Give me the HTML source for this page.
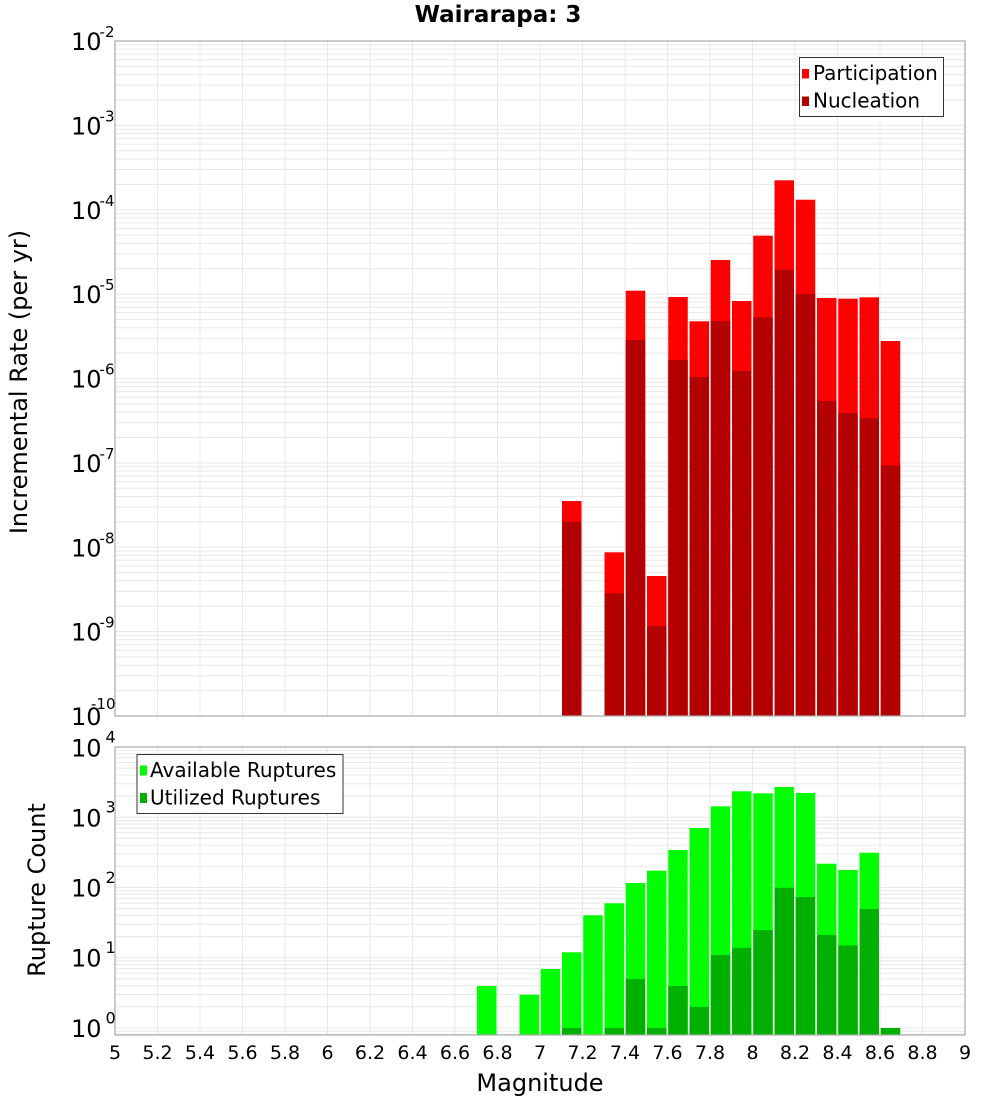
<!DOCTYPE html>
<html><head><meta charset="utf-8"><style>
html,body{margin:0;padding:0;background:#fff;}
svg{display:block;}
text{font-family:"DejaVu Sans","Liberation Sans",sans-serif;fill:#000;}
</style></head><body>
<svg width="1000" height="1100" viewBox="0 0 1000 1100" xmlns="http://www.w3.org/2000/svg">
<rect x="0" y="0" width="1000" height="1100" fill="#fff"/>
<text x="498" y="22" font-size="23" font-weight="bold" text-anchor="middle">Wairarapa: 3</text>

<!-- TOP PLOT grid -->
<g stroke="#e8e8e8" stroke-width="1" fill="none">
<path d="M115 44.9H965M115 49.2H965M115 54.1H965M115 59.7H965M115 66.4H965M115 74.6H965M115 85.1H965M115 100H965
M115 125.4H965M115 129.2H965M115 133.6H965M115 138.4H965M115 144.1H965M115 150.8H965M115 159H965M115 169.5H965M115 184.4H965
M115 209.8H965M115 213.6H965M115 217.9H965M115 222.8H965M115 228.5H965M115 235.1H965M115 243.3H965M115 253.9H965M115 268.7H965
M115 294.1H965M115 298H965M115 302.3H965M115 307.2H965M115 312.8H965M115 319.5H965M115 327.7H965M115 338.2H965M115 353.1H965
M115 378.5H965M115 382.4H965M115 386.7H965M115 391.6H965M115 397.2H965M115 403.9H965M115 412.1H965M115 422.6H965M115 437.5H965
M115 462.9H965M115 466.7H965M115 471.1H965M115 475.9H965M115 481.6H965M115 488.3H965M115 496.5H965M115 507H965M115 521.9H965
M115 547.3H965M115 551.1H965M115 555.4H965M115 560.3H965M115 566H965M115 572.6H965M115 580.8H965M115 591.4H965M115 606.2H965
M115 631.6H965M115 635.5H965M115 639.8H965M115 644.7H965M115 650.3H965M115 657H965M115 665.2H965M115 675.7H965M115 690.6H965"/>
<path d="M157.5 41V716M200 41V716M242.5 41V716M285 41V716M327.5 41V716M370 41V716M412.5 41V716M455 41V716M497.5 41V716M540 41V716M582.5 41V716M625 41V716M667.5 41V716M710 41V716M752.5 41V716M795 41V716M837.5 41V716M880 41V716M922.5 41V716"/>
</g>

<!-- TOP bars: participation -->
<g fill="#ff0000">
<rect x="562" y="501" width="19.5" height="215"/>
<rect x="604.5" y="552.3" width="19.5" height="163.7"/>
<rect x="625.75" y="290.7" width="19.5" height="425.3"/>
<rect x="647" y="576" width="19.5" height="140"/>
<rect x="668.25" y="297" width="19.5" height="419"/>
<rect x="689.5" y="321.3" width="19.5" height="394.7"/>
<rect x="710.75" y="260" width="19.5" height="456"/>
<rect x="732" y="301" width="19.5" height="415"/>
<rect x="753.25" y="235.7" width="19.5" height="480.3"/>
<rect x="774.5" y="180.3" width="19.5" height="535.7"/>
<rect x="795.75" y="199.7" width="19.5" height="516.3"/>
<rect x="817" y="298" width="19.5" height="418"/>
<rect x="838.25" y="298.7" width="19.5" height="417.3"/>
<rect x="859.5" y="297.3" width="19.5" height="418.7"/>
<rect x="880.75" y="341" width="19.5" height="375"/>
</g>
<!-- TOP bars: nucleation -->
<g fill="#b30000">
<rect x="562" y="521.7" width="19.5" height="194.3"/>
<rect x="604.5" y="593.3" width="19.5" height="122.7"/>
<rect x="625.75" y="340" width="19.5" height="376"/>
<rect x="647" y="626" width="19.5" height="90"/>
<rect x="668.25" y="360" width="19.5" height="356"/>
<rect x="689.5" y="377" width="19.5" height="339"/>
<rect x="710.75" y="321" width="19.5" height="395"/>
<rect x="732" y="371" width="19.5" height="345"/>
<rect x="753.25" y="317.3" width="19.5" height="398.7"/>
<rect x="774.5" y="269.7" width="19.5" height="446.3"/>
<rect x="795.75" y="294" width="19.5" height="422"/>
<rect x="817" y="401" width="19.5" height="315"/>
<rect x="838.25" y="413" width="19.5" height="303"/>
<rect x="859.5" y="418.3" width="19.5" height="297.7"/>
<rect x="880.75" y="465.3" width="19.5" height="250.7"/>
</g>
<rect x="115" y="41" width="850" height="675" fill="none" stroke="#ababab" stroke-width="1.2"/>

<!-- top legend -->
<rect x="799.5" y="57.5" width="144" height="59" fill="#fff" stroke="#333" stroke-width="1"/>
<rect x="802" y="69" width="7" height="9.5" fill="#ff0000"/>
<rect x="802" y="96.5" width="7" height="9.5" fill="#b30000"/>
<text x="813" y="80" font-size="20">Participation</text>
<text x="813" y="107.5" font-size="20">Nucleation</text>

<!-- top y tick labels -->
<g font-size="24" text-anchor="end">
<text x="101.5" y="50">10</text>
<text x="101.5" y="134.4">10</text>
<text x="101.5" y="218.8">10</text>
<text x="101.5" y="303.1">10</text>
<text x="101.5" y="387.5">10</text>
<text x="101.5" y="471.9">10</text>
<text x="101.5" y="556.3">10</text>
<text x="101.5" y="640.6">10</text>
<text x="101.5" y="725">10</text>
</g>
<g font-size="15" text-anchor="end">
<text x="114.5" y="37">-2</text>
<text x="114.5" y="121.4">-3</text>
<text x="114.5" y="205.8">-4</text>
<text x="114.5" y="290.1">-5</text>
<text x="114.5" y="374.5">-6</text>
<text x="114.5" y="458.9">-7</text>
<text x="114.5" y="543.3">-8</text>
<text x="114.5" y="627.6">-9</text>
<text x="115.5" y="709">-10</text>
</g>
<text transform="translate(27,382) rotate(-90)" font-size="24" text-anchor="middle">Incremental Rate (per yr)</text>

<!-- BOTTOM PLOT grid -->
<g stroke="#e8e8e8" stroke-width="1" fill="none">
<path d="M115 750.2H965M115 753.8H965M115 757.9H965M115 762.6H965M115 768.1H965M115 775H965M115 783.7H965M115 796.1H965
M115 817.2H965M115 820.5H965M115 824.1H965M115 828.1H965M115 832.8H965M115 838.4H965M115 845.2H965M115 854H965M115 866.3H965
M115 887.5H965M115 890.7H965M115 894.3H965M115 898.4H965M115 903.1H965M115 908.6H965M115 915.4H965M115 924.2H965M115 936.6H965
M115 957.7H965M115 960.9H965M115 964.5H965M115 968.6H965M115 973.3H965M115 978.9H965M115 985.7H965M115 994.5H965M115 1006.8H965
M115 1028H965M115 1031.2H965M115 1034.3H965"/>
<path d="M157.5 747V1035M200 747V1035M242.5 747V1035M285 747V1035M327.5 747V1035M370 747V1035M412.5 747V1035M455 747V1035M497.5 747V1035M540 747V1035M582.5 747V1035M625 747V1035M667.5 747V1035M710 747V1035M752.5 747V1035M795 747V1035M837.5 747V1035M880 747V1035M922.5 747V1035"/>
</g>

<!-- bottom bars: available -->
<g fill="#00ff00">
<rect x="477" y="986" width="19.5" height="49"/>
<rect x="519.5" y="994.7" width="19.5" height="40.3"/>
<rect x="540.75" y="969" width="19.5" height="66"/>
<rect x="562" y="952.3" width="19.5" height="82.7"/>
<rect x="583.25" y="915.3" width="19.5" height="119.7"/>
<rect x="604.5" y="903.3" width="19.5" height="131.7"/>
<rect x="625.75" y="883" width="19.5" height="152"/>
<rect x="647" y="870.7" width="19.5" height="164.3"/>
<rect x="668.25" y="850" width="19.5" height="185"/>
<rect x="689.5" y="828" width="19.5" height="207"/>
<rect x="710.75" y="806.3" width="19.5" height="228.7"/>
<rect x="732" y="791.3" width="19.5" height="243.7"/>
<rect x="753.25" y="793.3" width="19.5" height="241.7"/>
<rect x="774.5" y="787" width="19.5" height="248"/>
<rect x="795.75" y="793" width="19.5" height="242"/>
<rect x="817" y="863.7" width="19.5" height="171.3"/>
<rect x="838.25" y="870" width="19.5" height="165"/>
<rect x="859.5" y="852.7" width="19.5" height="182.3"/>
</g>
<!-- bottom bars: utilized -->
<g fill="#00b000">
<rect x="562" y="1028" width="19.5" height="7"/>
<rect x="604.5" y="1028" width="19.5" height="7"/>
<rect x="625.75" y="979" width="19.5" height="56"/>
<rect x="647" y="1028" width="19.5" height="7"/>
<rect x="668.25" y="986" width="19.5" height="49"/>
<rect x="689.5" y="1007" width="19.5" height="28"/>
<rect x="710.75" y="955" width="19.5" height="80"/>
<rect x="732" y="947.7" width="19.5" height="87.3"/>
<rect x="753.25" y="930" width="19.5" height="105"/>
<rect x="774.5" y="887.7" width="19.5" height="147.3"/>
<rect x="795.75" y="897" width="19.5" height="138"/>
<rect x="817" y="935" width="19.5" height="100"/>
<rect x="838.25" y="945.3" width="19.5" height="89.7"/>
<rect x="859.5" y="909" width="19.5" height="126"/>
<rect x="880.75" y="1028" width="19.5" height="7"/>
</g>
<rect x="115" y="747" width="850" height="288" fill="none" stroke="#ababab" stroke-width="1.2"/>

<!-- bottom legend -->
<rect x="137" y="754.5" width="206" height="59" fill="#fff" stroke="#333" stroke-width="1"/>
<rect x="140" y="765.5" width="7" height="10" fill="#00ff00"/>
<rect x="140" y="793" width="7" height="10" fill="#00b000"/>
<text x="150" y="777" font-size="20">Available Ruptures</text>
<text x="150" y="804.5" font-size="20">Utilized Ruptures</text>

<!-- bottom y tick labels -->
<g font-size="24" text-anchor="end">
<text x="101.5" y="756.5">10</text>
<text x="101.5" y="826.5">10</text>
<text x="101.5" y="896.5">10</text>
<text x="101.5" y="966.7">10</text>
<text x="101.5" y="1037">10</text>
</g>
<g font-size="16">
<text x="105.5" y="742.3">4</text>
<text x="105.5" y="812.5">3</text>
<text x="105.5" y="882.8">2</text>
<text x="105.5" y="953">1</text>
<text x="105.5" y="1023.3">0</text>
</g>
<text transform="translate(45,890) rotate(-90)" font-size="24" text-anchor="middle">Rupture Count</text>

<!-- x tick labels -->
<g font-size="19" text-anchor="middle">
<text x="115" y="1059">5</text>
<text x="157.5" y="1059">5.2</text>
<text x="200" y="1059">5.4</text>
<text x="242.5" y="1059">5.6</text>
<text x="285" y="1059">5.8</text>
<text x="327.5" y="1059">6</text>
<text x="370" y="1059">6.2</text>
<text x="412.5" y="1059">6.4</text>
<text x="455" y="1059">6.6</text>
<text x="497.5" y="1059">6.8</text>
<text x="540" y="1059">7</text>
<text x="582.5" y="1059">7.2</text>
<text x="625" y="1059">7.4</text>
<text x="667.5" y="1059">7.6</text>
<text x="710" y="1059">7.8</text>
<text x="752.5" y="1059">8</text>
<text x="795" y="1059">8.2</text>
<text x="837.5" y="1059">8.4</text>
<text x="880" y="1059">8.6</text>
<text x="922.5" y="1059">8.8</text>
<text x="965" y="1059">9</text>
</g>
<text x="540" y="1091" font-size="24" text-anchor="middle">Magnitude</text>
</svg>
</body></html>
